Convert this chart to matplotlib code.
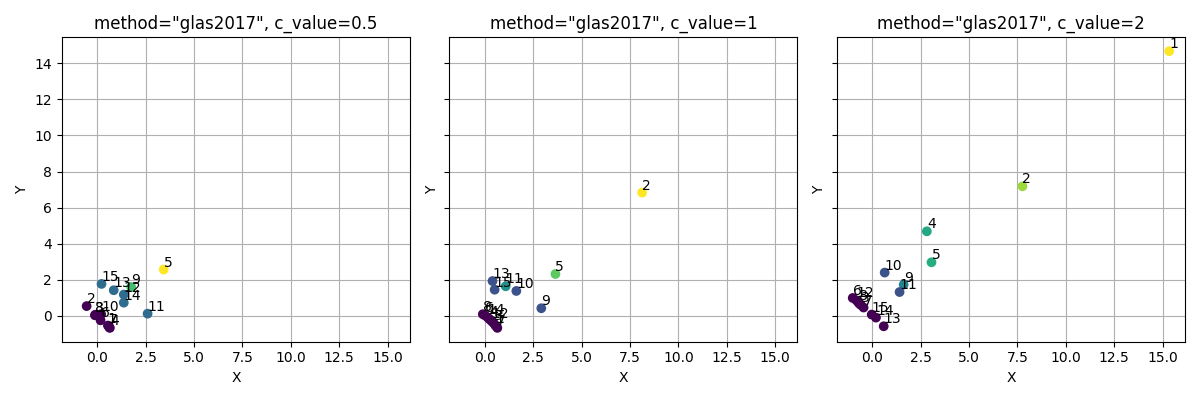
import matplotlib
matplotlib.use("Agg")
import matplotlib.pyplot as plt
import numpy as np

labels = list(range(1, 16))
c_values = [0.5, 1, 2]

# per-panel coordinates, point i -> label i
x_05 = [0.55, -0.55, -0.10, 0.65, 3.43, 0.17, 0.62, -0.12, 1.75, 0.20, 2.60, 1.37, 0.85, 1.37, 0.22]
y_05 = [-0.55, 0.53, 0.05, -0.68, 2.56, -0.26, -0.65, 0.02, 1.59, 0.08, 0.11, 1.17, 1.41, 0.72, 1.76]
col_05 = [0.0, 0.0, 0.0, 0.0, 1.0, 0.0, 0.0, 0.0, 0.7, 0.0, 0.35, 0.35, 0.35, 0.35, 0.35]

x_1 = [0.55, 8.13, 0.45, 0.25, 3.65, 0.0, 0.65, -0.10, 2.92, 1.63, 1.08, 0.35, 0.40, 0.15, 0.51]
y_1 = [-0.55, 6.83, -0.40, -0.20, 2.31, 0.02, -0.68, 0.08, 0.41, 1.37, 1.63, -0.30, 1.92, -0.10, 1.44]
col_1 = [0.0, 1.0, 0.0, 0.0, 0.75, 0.0, 0.0, 0.0, 0.25, 0.25, 0.5, 0.0, 0.25, 0.0, 0.25]

x_2 = [15.34, 7.76, -0.60, 2.82, 3.06, -1.01, -0.45, -0.70, 1.62, 0.64, 1.41, -0.82, 0.59, 0.19, -0.03]
y_2 = [14.68, 7.18, 0.60, 4.68, 2.96, 0.98, 0.45, 0.70, 1.72, 2.39, 1.31, 0.85, -0.59, -0.11, 0.06]
col_2 = [1.0, 0.85, 0.0, 0.6, 0.62, 0.0, 0.0, 0.0, 0.45, 0.25, 0.25, 0.0, 0.0, 0.0, 0.0]

panels = [(x_05, y_05, col_05), (x_1, y_1, col_1), (x_2, y_2, col_2)]

fig, axes = plt.subplots(1, 3, figsize=(12, 4), sharex=True, sharey=True)
for ax, cv, (xs, ys, cs) in zip(axes, c_values, panels):
    ax.scatter(xs, ys, c=cs, cmap="viridis", zorder=2)
    for lab, x, y in zip(labels, xs, ys):
        ax.text(x, y, str(lab), va="bottom", zorder=3)
    ax.set_title(f'method="glas2017", c_value={cv}')
    ax.set_xlabel("X")
    ax.set_ylabel("Y")
    ax.grid(True)
    ax.set_axisbelow(True)

plt.tight_layout()
plt.savefig("out.png", dpi=100)
